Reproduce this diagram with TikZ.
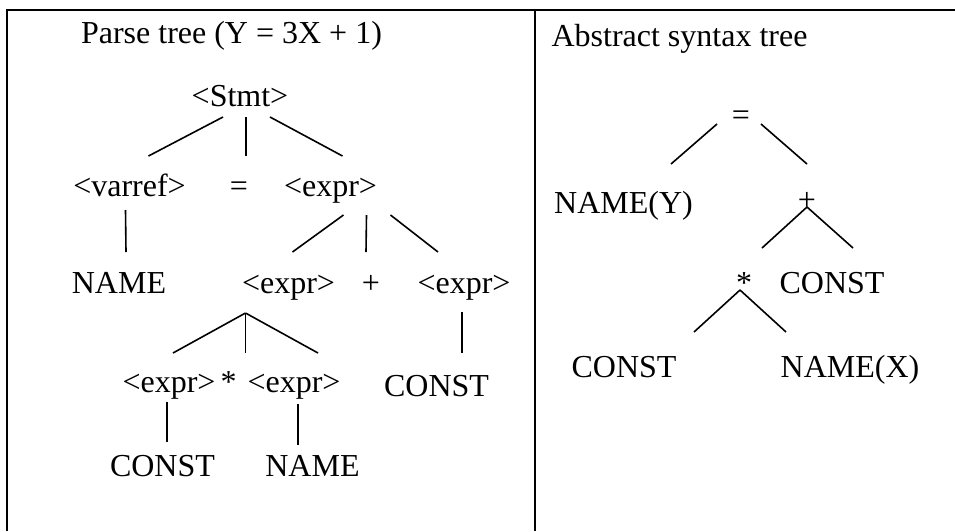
\documentclass[tikz,border=0pt]{standalone}
\usepackage{fontspec}
\setmainfont{Liberation Serif}
\usepackage{tikz}
\usetikzlibrary{positioning}

\begin{document}
\begin{tikzpicture}[
  x=1pt, y=-1pt,
  sym/.style={anchor=base, inner sep=0pt, font=\fontsize{32}{38}\selectfont},
  edge/.style={line width=1.6pt, draw=black},
  frame/.style={line width=2.4pt, draw=black}
]
\useasboundingbox (0,0) rectangle (955,531);
% frame and divider
\draw[frame] (7,531) -- (7,10) -- (955,10);
\draw[frame] (535,10) -- (535,531);

% parse tree
\node[sym] (ptitle) at (231.5,43) {Parse tree (Y = 3X + 1)};
\node[sym] (stmt) at (240,106) {<Stmt>};
\node[sym] (varref) at (129.5,196) {<varref>};
\node[sym] (assign) at (239,196) {=};
\node[sym] (rhs) at (330.5,196) {<expr>};
\node[sym] (lhsname) at (119,293) {NAME};
\node[sym] (sumleft) at (288.5,293) {<expr>};
\node[sym] (plusop) at (371,293) {+};
\node[sym] (sumright) at (464,293) {<expr>};
\node[sym] (mulleft) at (169,392) {<expr>};
\node[sym] (mulop) at (228.5,392) {*};
\node[sym] (mulright) at (294,392) {<expr>};
\node[sym] (oneconst) at (436.5,396) {CONST};
\node[sym] (threeconst) at (162.5,476) {CONST};
\node[sym] (xname) at (312.5,476) {NAME};
\draw[edge] ([shift={(-17,11)}]stmt.base) -- ([shift={(19,-40)}]varref.base);
\draw[edge] ([shift={(6,11)}]stmt.base) -- ([shift={(7,-40)}]assign.base);
\draw[edge] ([shift={(30,11)}]stmt.base) -- ([shift={(12,-40)}]rhs.base);
\draw[edge] ([shift={(-4,14)}]varref.base) -- ([shift={(7,-41)}]lhsname.base);
\draw[edge] ([shift={(13,19)}]rhs.base) -- ([shift={(4,-41)}]sumleft.base);
\draw[edge] ([shift={(36,19)}]rhs.base) -- ([shift={(-5,-41)}]plusop.base);
\draw[edge] ([shift={(60,19)}]rhs.base) -- ([shift={(-26,-41)}]sumright.base);
\draw[edge] ([shift={(-43,20)}]sumleft.base) -- ([shift={(4,-39)}]mulleft.base);
\draw[edge] ([shift={(-43,20)}]sumleft.base) -- ([shift={(17,-39)}]mulop.base);
\draw[edge] ([shift={(-43,20)}]sumleft.base) -- ([shift={(24,-39)}]mulright.base);
\draw[edge] ([shift={(-2,19)}]sumright.base) -- ([shift={(25.5,-43)}]oneconst.base);
\draw[edge] ([shift={(-2,10)}]mulleft.base) -- ([shift={(4.5,-34)}]threeconst.base);
\draw[edge] ([shift={(4,12)}]mulright.base) -- ([shift={(-14.5,-31)}]xname.base);

% abstract syntax tree
\node[sym] (atitle) at (679.5,46) {Abstract syntax tree};
\node[sym] (astassign) at (741,125) {=};
\node[sym] (astname) at (623.5,213) {NAME(Y)};
\node[sym] (astplus) at (807,210) {+};
\node[sym] (aststar) at (744,293) {*};
\node[sym] (astone) at (832,293) {CONST};
\node[sym] (astthree) at (624,377) {CONST};
\node[sym] (astx) at (850,377) {NAME(X)};
\draw[edge] ([shift={(-24,-1)}]astassign.base) -- ([shift={(47.5,-49)}]astname.base);
\draw[edge] ([shift={(20,-1)}]astassign.base) -- ([shift={(0,-46)}]astplus.base);
\draw[edge] ([shift={(0,-3)}]astplus.base) -- ([shift={(18,-45)}]aststar.base);
\draw[edge] ([shift={(0,-3)}]astplus.base) -- ([shift={(21,-45)}]astone.base);
\draw[edge] ([shift={(-4,-3)}]aststar.base) -- ([shift={(70,-45)}]astthree.base);
\draw[edge] ([shift={(-4,-3)}]aststar.base) -- ([shift={(-64,-45)}]astx.base);
\end{tikzpicture}
\end{document}
